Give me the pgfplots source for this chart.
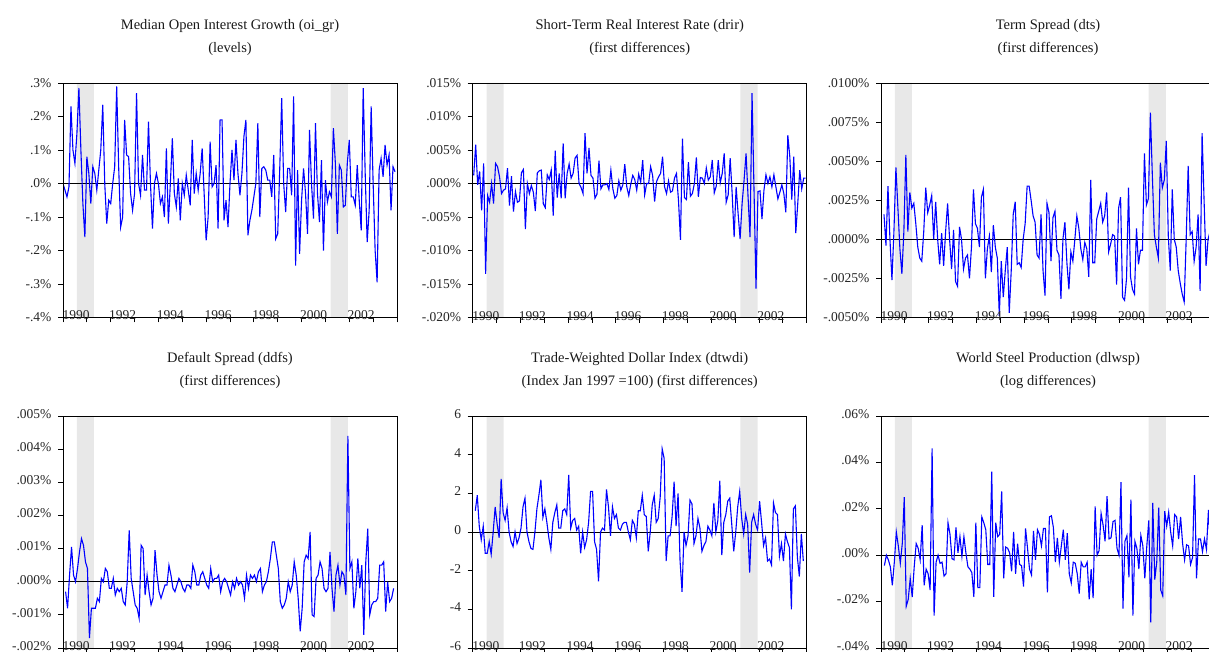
\documentclass[border=0pt]{standalone}
\usepackage{fontspec}
\setmainfont{Liberation Serif}
\usepackage{pgfplots}
\usepackage{pgfplotstable}
\pgfplotsset{compat=1.18}
\definecolor{band}{gray}{0.91}
\definecolor{lineblue}{RGB}{0,0,255}

% P1: median open interest growth, units of 0.1%
\pgfplotstableread[row sep=\\]{y\\
0\\-0.2\\-0.4\\-0.1\\2.3\\1.0\\0.6\\1.5\\2.85\\1.0\\-0.6\\-1.6\\
0.8\\0.3\\-0.6\\0.5\\0.3\\-0.2\\0.4\\1.0\\2.35\\0.0\\-1.2\\-0.5\\
-0.6\\0.0\\0.5\\2.9\\0.5\\-1.3\\-1.0\\1.9\\0.85\\0.8\\-0.3\\-0.8\\
-0.3\\2.7\\0.0\\-0.35\\0.85\\-0.2\\-0.2\\1.85\\0.0\\-1.35\\0.0\\0.3\\
0.0\\-0.6\\-0.4\\-1.0\\1.05\\-1.2\\0.0\\1.35\\-0.3\\-0.7\\0.15\\-1.1\\
0.0\\-0.35\\0.25\\-0.2\\-0.65\\1.3\\-0.3\\0.3\\-0.2\\0.3\\1.05\\-0.3\\
-1.7\\-1.0\\1.25\\-0.1\\0.0\\0.55\\-1.35\\1.9\\1.9\\-1.1\\-0.5\\-1.3\\
0.0\\1.0\\0.1\\1.3\\0.3\\-0.35\\0.3\\1.4\\1.9\\-1.55\\-1.1\\-0.8\\
-0.4\\0.0\\1.8\\-1.0\\0.45\\0.5\\0.4\\0.1\\0.1\\-0.4\\0.85\\-1.65\\
-1.5\\0.4\\2.55\\0.0\\-0.85\\0.45\\0.45\\-0.35\\2.6\\-2.45\\0.4\\-2.1\\
-0.5\\0.45\\-0.3\\-1.5\\1.6\\0.0\\-1.05\\1.8\\-0.3\\-1.15\\0.7\\-2.0\\
0.1\\-0.55\\-0.25\\-0.4\\1.65\\0.6\\-1.5\\0.55\\0.4\\-0.7\\-0.65\\0.6\\
1.3\\-0.4\\-0.4\\-0.65\\0.55\\-0.5\\-1.4\\2.85\\0.3\\-1.75\\-0.8\\2.3\\
0.0\\-2.0\\-2.95\\0.4\\0.75\\0.2\\1.15\\0.55\\0.85\\-0.8\\0.5\\0.35\\
}\dataA

% P2: short-term real interest rate, units of 0.001%
\pgfplotstableread[row sep=\\]{y\\
1.2\\5.8\\-0.2\\1.8\\-4.0\\3.0\\-13.5\\-1.8\\-2.8\\0.0\\-3.0\\3.0\\
2.5\\1.0\\-1.5\\-1.0\\-0.8\\2.3\\-3.3\\1.1\\-4.2\\-1.2\\-2.8\\-2.6\\
1.6\\2.1\\-6.8\\0.0\\-1.5\\-0.3\\-1.3\\-4.1\\1.6\\1.9\\2.0\\-3.0\\
-3.6\\1.3\\0.6\\2.0\\-4.8\\4.9\\-2.1\\1.5\\-2.2\\6.0\\-2.2\\1.5\\
2.9\\0.8\\1.5\\3.8\\4.2\\0.0\\-0.6\\-1.5\\7.5\\1.5\\5.3\\1.2\\
0.8\\-2.2\\-1.6\\3.4\\-0.8\\-0.2\\-0.2\\0.0\\-0.9\\2.0\\-0.8\\-2.2\\
-1.8\\0.4\\-1.0\\-0.2\\2.9\\-0.5\\-1.8\\-0.1\\1.2\\0.6\\-1.0\\1.4\\
0.2\\3.5\\-1.7\\0.0\\0.0\\2.5\\1.2\\-2.7\\0.3\\1.0\\1.5\\4.0\\
-0.5\\-1.5\\0.4\\-1.3\\-1.1\\0.8\\1.5\\-2.5\\-8.4\\6.7\\-2.1\\-2.4\\
3.2\\-1.9\\-1.5\\0.0\\3.9\\-2.0\\0.9\\0.8\\0.0\\2.3\\0.5\\1.0\\
3.5\\-1.4\\-0.4\\3.5\\0.1\\1.5\\4.5\\-2.8\\-1.7\\3.8\\-1.5\\-8.0\\
-0.5\\-4.5\\-8.3\\-3.0\\0.5\\4.5\\-2.0\\-8.0\\13.5\\-1.0\\-15.7\\-1.2\\
-1.1\\-5.3\\-1.0\\1.3\\0.0\\1.0\\-0.5\\1.3\\-0.5\\-2.3\\-1.3\\-0.2\\
-1.5\\-4.3\\7.2\\4.0\\-2.4\\4.0\\-7.4\\-3.0\\2.0\\-0.8\\0.8\\0.8\\
}\dataB

% P3: term spread, units of 0.001%
\pgfplotstableread[row sep=\\]{y\\
1.6\\-0.4\\3.4\\0.0\\-2.6\\0.5\\4.6\\2.0\\-0.6\\-2.2\\0.5\\5.4\\
0.5\\3.0\\2.0\\2.3\\1.0\\-0.5\\-1.2\\-1.4\\0.5\\3.3\\1.7\\2.2\\
2.8\\0.0\\2.4\\0.0\\-1.6\\0.4\\-1.7\\0.5\\2.3\\0.0\\-1.9\\0.6\\
-2.7\\-3.0\\0.8\\0.0\\-1.9\\-1.2\\-1.0\\-2.5\\-0.5\\3.2\\1.0\\0.7\\
-0.5\\2.7\\3.2\\-2.5\\-0.6\\0.2\\-2.1\\0.9\\-0.5\\-1.2\\-4.9\\-1.4\\
-3.7\\-2.0\\-0.5\\-4.7\\-2.0\\1.6\\2.4\\-1.6\\-1.5\\-1.8\\0.0\\1.0\\
3.4\\3.4\\2.5\\1.5\\1.1\\-1.0\\-1.2\\1.6\\-2.0\\-3.6\\2.3\\1.7\\
-1.4\\1.4\\1.8\\-0.7\\-1.0\\-3.8\\0.0\\1.1\\-1.5\\-3.2\\-0.8\\-1.4\\
0.0\\1.5\\0.7\\-0.6\\-1.3\\-0.2\\-0.6\\-2.4\\3.8\\-1.5\\-1.5\\1.3\\
1.8\\2.3\\1.1\\1.5\\3.0\\-0.8\\-0.3\\0.3\\0.2\\-2.9\\2.0\\2.7\\
-3.7\\-3.9\\-2.5\\3.3\\-2.4\\-3.2\\-3.5\\0.7\\-1.6\\-0.7\\-0.7\\5.5\\
2.2\\2.6\\8.1\\4.0\\0.3\\-0.5\\-1.2\\4.9\\3.3\\3.8\\6.3\\0.2\\
-2.0\\3.2\\0.0\\-0.5\\-2.0\\-2.8\\-3.5\\-4.0\\0.0\\4.7\\0.3\\0.5\\
-1.4\\-0.5\\1.6\\-3.3\\6.8\\2.5\\-1.7\\0.0\\0.5\\-0.5\\0.3\\
}\dataC

% P4: default spread, units of 0.001%
\pgfplotstableread[row sep=\\]{y\\
-0.3\\-0.8\\0.2\\1.05\\0.2\\0.0\\0.4\\0.9\\1.3\\1.1\\0.6\\0.4\\
-1.7\\-0.8\\-0.8\\-0.8\\-0.5\\-0.6\\0.1\\0.0\\0.4\\0.3\\-0.2\\-0.2\\
0.1\\-0.4\\-0.2\\-0.3\\-0.2\\-0.6\\-0.7\\0.0\\1.55\\0.1\\-0.3\\-0.7\\
-0.8\\-1.1\\1.1\\1.0\\-0.4\\0.2\\-0.3\\-0.7\\-0.5\\0.95\\0.2\\-0.3\\
-0.5\\-0.3\\-0.1\\-0.1\\0.5\\0.2\\-0.2\\-0.3\\-0.1\\0.1\\0.0\\-0.2\\
-0.3\\-0.1\\-0.1\\-0.2\\0.5\\0.3\\-0.1\\-0.1\\0.2\\0.3\\0.1\\-0.1\\
-0.2\\0.4\\0.0\\0.1\\0.1\\0.2\\-0.3\\0.0\\0.1\\0.0\\-0.2\\-0.4\\
0.0\\-0.2\\0.1\\-0.1\\0.0\\-0.1\\-0.5\\0.2\\-0.2\\0.2\\0.1\\0.2\\0.0\\
0.3\\0.4\\-0.3\\-0.1\\0.0\\0.3\\0.7\\1.2\\1.2\\0.8\\0.4\\-0.6\\
-0.8\\-0.7\\-0.5\\0.0\\-0.3\\-0.1\\0.6\\0.2\\-0.5\\-1.5\\-0.8\\0.6\\
0.8\\0.7\\1.5\\-1.0\\-1.05\\0.1\\0.2\\0.6\\0.4\\-0.2\\-0.3\\-0.2\\
0.9\\-0.2\\-0.9\\0.2\\0.5\\-0.1\\0.3\\0.2\\-0.4\\4.4\\0.4\\0.6\\
-0.8\\-0.3\\0.7\\-0.2\\0.5\\-1.6\\0.6\\1.6\\-1.0\\-0.7\\-0.6\\-0.6\\
-0.5\\0.5\\0.5\\0.6\\-0.9\\0.0\\-0.6\\-0.5\\-0.2\\
}\dataD

% P5: trade-weighted dollar index
\pgfplotstableread[row sep=\\]{y\\
1.1\\1.9\\0.3\\-0.4\\0.3\\-1.1\\-1.1\\-0.5\\-1.15\\0.0\\1.3\\
0.4\\-0.3\\2.75\\1.0\\0.6\\1.25\\0.0\\-0.5\\-0.75\\0.0\\-0.6\\-0.3\\
0.2\\1.3\\1.75\\0.0\\-0.5\\-0.85\\-0.9\\0.0\\1.2\\1.9\\2.7\\0.75\\
1.2\\0.5\\-0.3\\-0.9\\0.5\\1.0\\1.4\\0.2\\0.2\\1.1\\1.2\\0.9\\
2.95\\0.2\\0.6\\0.7\\0.1\\0.3\\-1.1\\0.0\\-0.8\\-0.4\\0.5\\2.1\\
2.1\\-0.5\\-0.9\\-2.55\\0.0\\0.2\\0.1\\2.2\\1.3\\-0.2\\1.3\\0.7\\
0.9\\0.2\\0.1\\0.4\\0.5\\0.5\\0.0\\-0.4\\0.6\\0.4\\-0.3\\1.1\\
1.1\\1.9\\0.9\\0.8\\-1.0\\0.0\\1.4\\1.9\\0.5\\0.7\\1.8\\4.3\\
3.8\\-1.5\\-0.2\\-0.2\\0.8\\2.6\\0.3\\2.0\\-1.5\\-3.1\\0.0\\-0.7\\
-0.2\\1.65\\1.45\\-0.6\\-0.2\\0.7\\0.2\\-1.0\\-0.7\\-0.5\\0.3\\0.1\\
-0.2\\1.5\\0.0\\0.6\\2.65\\-1.2\\0.5\\0.9\\1.6\\1.75\\0.4\\-1.0\\
0.0\\1.3\\2.1\\0.7\\-0.1\\0.9\\0.4\\-2.1\\0.5\\0.9\\0.4\\0.1\\
1.6\\0.5\\-0.7\\-0.3\\-1.5\\-1.4\\-1.7\\1.5\\1.0\\0.9\\-1.25\\-0.6\\
-1.5\\-0.1\\-0.5\\-0.8\\-4.0\\1.2\\1.35\\-1.3\\-2.3\\-0.1\\-1.5\\
}\dataE

% P6: world steel production, units of 0.01%
\pgfplotstableread[row sep=\\]{y\\
-0.45\\0.0\\-0.2\\-0.5\\-1.3\\-0.3\\1.0\\0.4\\-0.35\\0.5\\2.5\\-2.2\\
-1.9\\-1.0\\-1.8\\-0.5\\0.5\\0.3\\-0.2\\1.3\\-1.3\\-0.6\\-0.8\\-1.5\\
4.6\\-2.6\\-0.3\\0.0\\-0.35\\-0.3\\-0.9\\-0.8\\1.4\\0.9\\-0.15\\-0.2\\
1.2\\0.1\\0.8\\-0.05\\0.8\\0.1\\-0.5\\-0.6\\-0.75\\-1.8\\1.4\\-1.4\\
-1.4\\1.65\\1.4\\1.1\\-0.4\\-0.4\\3.6\\-1.8\\1.4\\0.8\\0.9\\2.75\\
-1.0\\0.35\\0.3\\0.1\\-0.7\\1.0\\-0.8\\0.5\\-0.4\\-0.45\\-1.35\\1.15\\
0.3\\-0.6\\-0.85\\1.05\\-0.2\\1.1\\0.9\\0.4\\1.15\\1.15\\-1.6\\1.65\\
1.7\\1.2\\-0.3\\0.75\\-0.3\\0.4\\1.1\\-0.2\\0.95\\-0.8\\-1.2\\-0.3\\
-0.35\\-0.8\\-1.65\\-0.3\\-0.5\\-0.5\\-0.3\\-1.9\\-0.6\\-1.85\\2.1\\0.0\\
0.2\\1.8\\1.3\\0.6\\2.55\\0.7\\0.75\\1.45\\1.5\\0.3\\0.0\\3.15\\
-2.3\\0.6\\0.85\\-0.95\\2.4\\-2.6\\0.6\\0.3\\-0.6\\0.85\\0.4\\-1.0\\
0.4\\1.5\\-2.9\\2.25\\-1.05\\-0.3\\2.05\\-1.5\\-1.75\\1.9\\1.25\\1.85\\
1.0\\0.4\\1.75\\1.65\\0.7\\1.65\\0.5\\-0.2\\0.45\\0.4\\-0.4\\-0.1\\
3.45\\-1.0\\0.7\\0.7\\0.15\\0.7\\0.25\\1.95\\0.5\\-0.3\\0.6\\
}\dataF

\pgfplotsset{panel/.style={
  scale only axis, width=334pt,
  anchor=north west,
  axis on top,
  xmin=0, xmax=168,
  xtick={0,12,...,168}, xticklabels={},
  extra x ticks={6.6,30,54,78,102,126,150},
  extra x tick labels={1990,1992,1994,1996,1998,2000,2002},
  extra x tick style={major tick length=0pt,
    tick label style={anchor=base, yshift=-2.5pt}},
  tick align=outside, major tick length=5pt,
  xtick pos=bottom, ytick pos=left,
  axis line style={black, line width=0.9pt},
  every tick/.style={black, line width=0.8pt},
  tick label style={font=\fontsize{13.5}{16}\selectfont, text=black!85},
  yticklabel style={xshift=-3pt},
  title style={font=\fontsize{14.5}{23}\selectfont, align=center,
    anchor=south, at={(0.5,1)}, inner sep=0pt, yshift=21pt, text=black!90},
}}
\newcommand{\bands}[2]{%
  \addplot[fill=band, draw=none] coordinates {(7,#1) (15.5,#1) (15.5,#2) (7,#2) (7,#1)};
  \addplot[fill=band, draw=none] coordinates {(134.6,#1) (143.3,#1) (143.3,#2) (134.6,#2) (134.6,#1)};
  \addplot[black, line width=0.8pt] coordinates {(0,0) (168,0)};
}

\begin{document}
\begin{tikzpicture}[x=1pt,y=1pt]
\useasboundingbox (0,0) rectangle (1209,-652);

\begin{axis}[panel, at={(63pt,-83pt)}, height=234.5pt,
  ymin=-4, ymax=3, ytick={-4,-3,...,3},
  yticklabels={-.4\%,-.3\%,-.2\%,-.1\%,.0\%,.1\%,.2\%,.3\%},
  title={Median Open Interest Growth (oi\_gr)\\(levels)}]
\bands{-4}{3}
\addplot[lineblue, line width=1.1pt] table[x expr=\coordindex, y=y] {\dataA};
\end{axis}

\begin{axis}[panel, at={(472.7pt,-83pt)}, height=234.5pt,
  ymin=-20, ymax=15, ytick={-20,-15,...,15},
  yticklabels={-.020\%,-.015\%,-.010\%,-.005\%,.000\%,.005\%,.010\%,.015\%},
  title={Short-Term Real Interest Rate (drir)\\(first differences)}]
\bands{-20}{15}
\addplot[lineblue, line width=1.1pt] table[x expr=\coordindex+0.5, y=y] {\dataB};
\end{axis}

\begin{axis}[panel, at={(881pt,-83pt)}, height=234.5pt,
  ymin=-5, ymax=10, ytick={-5,-2.5,0,2.5,5,7.5,10},
  yticklabels={-.0050\%,-.0025\%,.0000\%,.0025\%,.0050\%,.0075\%,.0100\%},
  title={Term Spread (dts)\\(first differences)}]
\bands{-5}{10}
\addplot[lineblue, line width=1.1pt] table[x expr=\coordindex+1.5, y=y] {\dataC};
\end{axis}

\begin{axis}[panel, at={(63pt,-416pt)}, height=232pt,
  ymin=-2, ymax=5, ytick={-2,-1,...,5},
  yticklabels={-.002\%,-.001\%,.000\%,.001\%,.002\%,.003\%,.004\%,.005\%},
  yticklabel style={yshift=2pt},
  title={Default Spread (ddfs)\\(first differences)}]
\bands{-2}{5}
\addplot[lineblue, line width=1.1pt] table[x expr=\coordindex+1.3, y=y] {\dataD};
\end{axis}

\begin{axis}[panel, at={(472.7pt,-416pt)}, height=232pt,
  ymin=-6, ymax=6, ytick={-6,-4,...,6},
  yticklabels={-6,-4,-2,0,2,4,6},
  yticklabel style={yshift=2pt},
  title={Trade-Weighted Dollar Index (dtwdi)\\(Index Jan 1997 =100) (first differences)}]
\bands{-6}{6}
\addplot[lineblue, line width=1.1pt] table[x expr=\coordindex+1.3, y=y] {\dataE};
\end{axis}

\begin{axis}[panel, at={(881pt,-416pt)}, height=232pt,
  ymin=-4, ymax=6, ytick={-4,-2,...,6},
  yticklabels={-.04\%,-.02\%,.00\%,.02\%,.04\%,.06\%},
  yticklabel style={yshift=2pt},
  title={World Steel Production (dlwsp)\\(log differences)}]
\bands{-4}{6}
\addplot[lineblue, line width=1.1pt] table[x expr=\coordindex+1.7, y=y] {\dataF};
\end{axis}
\end{tikzpicture}
\end{document}
